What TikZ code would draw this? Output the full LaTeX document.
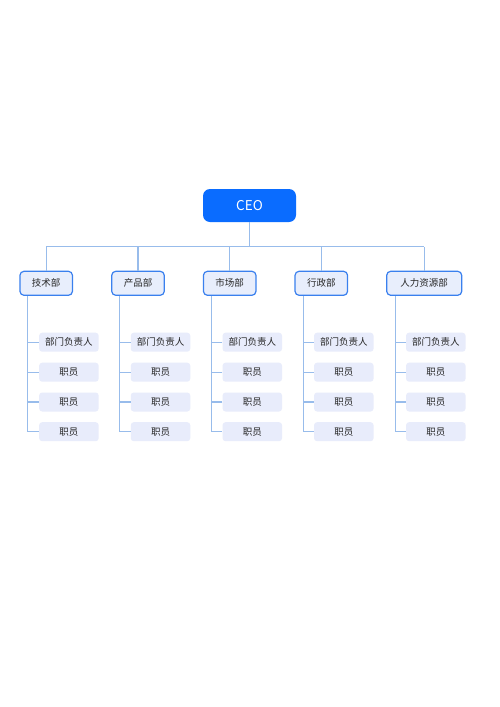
\documentclass[tikz,border=0pt]{standalone}
\usepackage{fontspec}
\setmainfont{Noto Sans CJK SC}
\definecolor{ceoblue}{HTML}{0A6CFF}
\definecolor{linec}{HTML}{98BCEB}
\definecolor{deptborder}{HTML}{3A80EE}
\definecolor{deptfill}{HTML}{E8EEFC}
\definecolor{empfill}{HTML}{E8ECFB}
\definecolor{txt}{HTML}{262626}
\tikzset{
  ceobox/.style={fill=ceoblue, rounded corners=7pt, minimum width=93pt, minimum height=33pt, inner sep=0pt, text=white, font=\fontsize{13.5}{14}\selectfont},
  deptbox/.style={draw=deptborder, line width=1.2pt, fill=deptfill, rounded corners=4pt, minimum height=24pt, inner sep=0pt, text=txt, font=\fontsize{9.5}{10}\selectfont},
  empbox/.style={fill=empfill, rounded corners=3pt, minimum width=59.5pt, minimum height=19pt, inner sep=0pt, text=txt, font=\fontsize{9.5}{10}\selectfont},
  conn/.style={draw=linec, line width=1.1pt},
}
\begin{document}
\begin{tikzpicture}[x=1pt,y=-1pt]
\useasboundingbox[fill=white] (0,0) rectangle (500,707);
\node[ceobox] (ceo) at (249.5,205.5) {CEO};
\coordinate (bus) at (249.5,246.7);
\foreach \i/\cx/\w/\vx/\ex/\name in {1/46.2/52.5/27.7/68.9/技术部, 2/138/52.5/119.3/160.5/产品部, 3/229.7/52.5/211.7/252.3/市场部, 4/321.3/52.5/303.3/343.8/行政部, 5/424.2/75/395.7/435.8/人力资源部}{
  \node[deptbox, minimum width=\w pt] (d\i) at (\cx,283.3) {\name};
  \coordinate (v\i) at (\vx,296);
  \node[empbox] (e\i1) at (\ex,342.2) {部门负责人};
  \node[empbox] (e\i2) at (\ex,372.2) {职员};
  \node[empbox] (e\i3) at (\ex,402) {职员};
  \node[empbox] (e\i4) at (\ex,431.7) {职员};
  \draw[conn] (d\i.north) -- (d\i.north |- bus);
  \draw[conn] (v\i) |- (e\i4.west);
  \draw[conn] (e\i1.west) -- (e\i1.west -| v\i);
  \draw[conn] (e\i2.west) -- (e\i2.west -| v\i);
  \draw[conn] (e\i3.west) -- (e\i3.west -| v\i);
}
\draw[conn] (ceo.south) -- (bus);
\draw[conn] (d1.north |- bus) -- (d5.north |- bus);
\end{tikzpicture}
\end{document}
